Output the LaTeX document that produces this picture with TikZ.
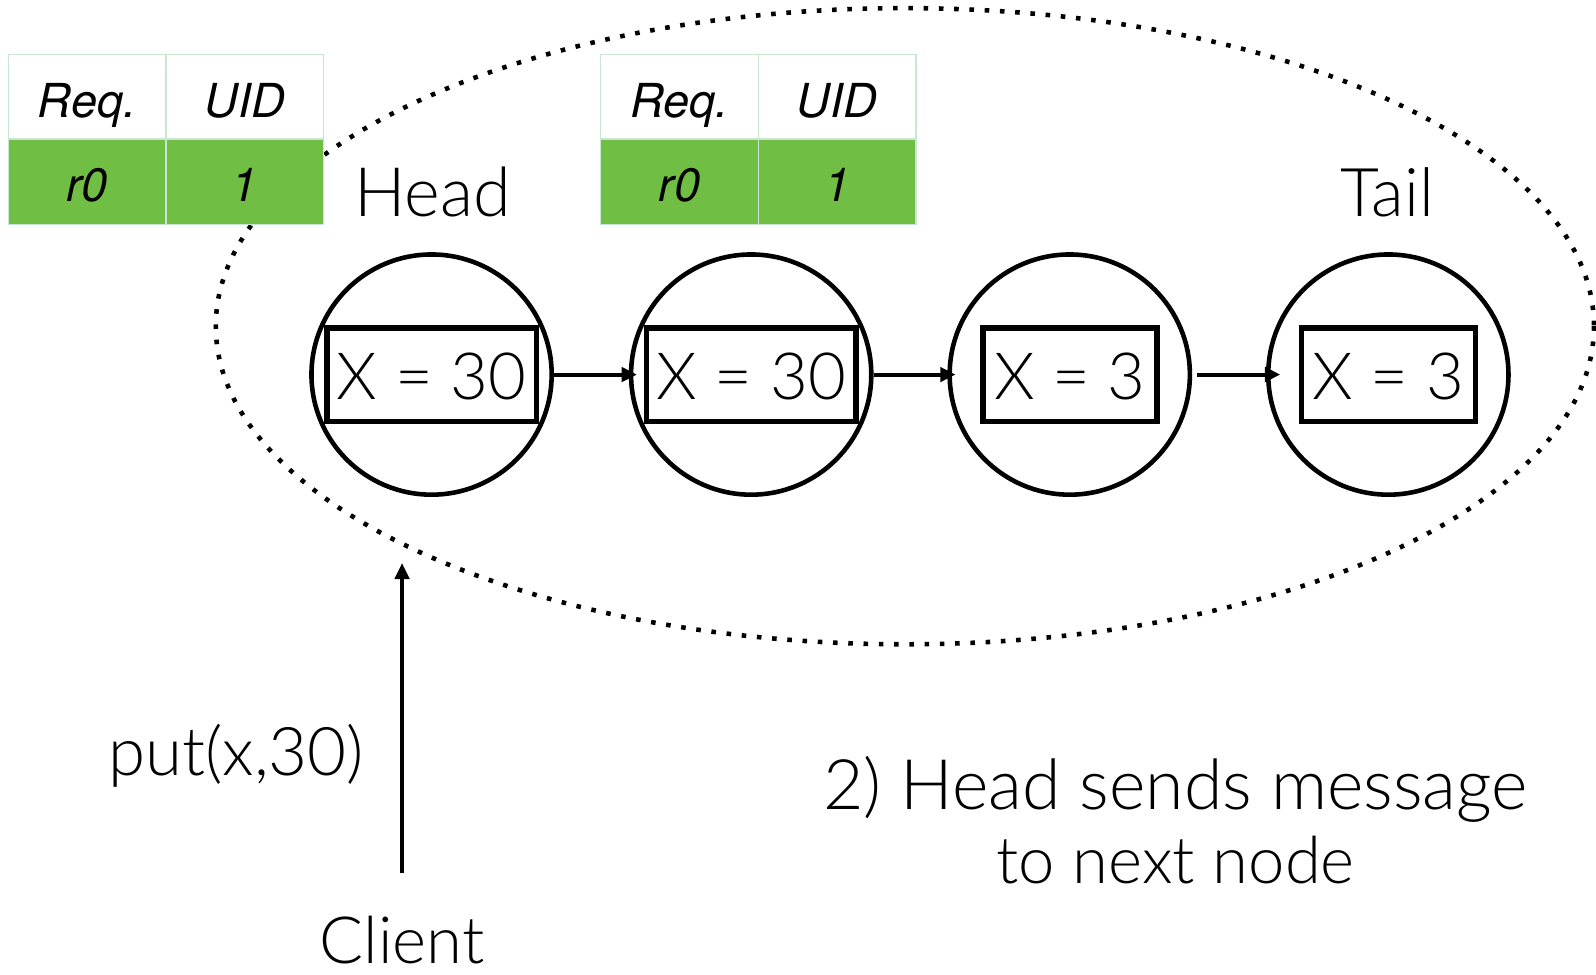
\documentclass[tikz,border=0pt]{standalone}
\usepackage{fontspec}
\setmainfont{Lato}[UprightFont={* Light}]
\newfontfamily\tabfont{TeX Gyre Heros}
\usetikzlibrary{arrows.meta}
\definecolor{cellgreen}{HTML}{70BF44}
\definecolor{cellrule}{HTML}{C8E6D2}
\tikzset{
  ring/.style={circle, draw, line width=4.5pt, minimum size=236pt, inner sep=0pt},
  valbox/.style={draw, line width=5.5pt, minimum height=92pt, inner sep=0pt},
  label/.style={font=\fontsize{64}{72}\selectfont, inner sep=0pt, anchor=base},
  cellhead/.style={draw=cellrule, line width=1.2pt, fill=white, minimum width=155pt,
    minimum height=84pt, inner sep=0pt, text height=39pt, text depth=0pt,
    font=\tabfont\itshape\fontsize{46}{50}\selectfont},
  cellbody/.style={cellhead, fill=cellgreen},
  link/.style={line width=4pt, -{Triangle[length=15pt,width=14pt]}},
  group/.style={line width=4.5pt, dash pattern=on 4.5pt off 10.5pt},
}
\begin{document}
\begin{tikzpicture}[x=1pt,y=-1pt]
\useasboundingbox (0,0) rectangle (1568,957);

% replica group
\draw[group] (889,320.5) ellipse [x radius=677, y radius=312.5];

% chain replicas
\node[ring] (c1) at (424,368) {};
\node[ring] (c2) at (738,368) {};
\node[ring] (c3) at (1051,368) {};
\node[ring] (c4) at (1364,368) {};

\node[valbox, minimum width=206pt] (v1) at (c1) {};
\node[valbox, minimum width=206pt] (v2) at (c2) {};
\node[valbox, minimum width=171pt] (v3) at (c3) {};
\node[valbox, minimum width=171pt] (v4) at (c4) {};
\node[label] (x1) at ([yshift=-24pt]c1) {X = 30};
\node[label] (x2) at ([yshift=-24pt]c2) {X = 30};
\node[label] (x3) at ([yshift=-24pt]c3) {X = 3};
\node[label] (x4) at ([yshift=-24pt]c4) {X = 3};

\draw[link] (c1.east) -- ([xshift=8pt]c2.west);
\draw[link] (c2.east) -- ([xshift=8pt]c3.west);
\draw[link] ([xshift=5pt]c3.east) -- ([xshift=14pt]c4.west);

\node[label, font=\fontsize{67}{72}\selectfont] (head) at (425,213) {Head};
\node[label, font=\fontsize{66}{72}\selectfont] (tail) at (1363,213) {Tail};

% request tables
\node[cellhead] (t1a) at (85.5,95.5) {Req.};
\node[cellhead] (t1b) at (240.5,95.5) {UID};
\node[cellbody] (t1c) at (85.5,178.5) {r0};
\node[cellbody] (t1d) at (240.5,178.5) {1};

\node[cellhead] (t2a) at (667.5,95.5) {Req.};
\node[cellhead] (t2b) at (822.5,95.5) {UID};
\node[cellbody] (t2c) at (667.5,178.5) {r0};
\node[cellbody] (t2d) at (822.5,178.5) {1};

% client request
\node[label] (client) at (395,947) {Client};
\coordinate (cstart) at (395,858);
\coordinate (cend) at (395,553);
\draw[line width=4pt, -{Triangle[length=16pt,width=14pt]}] (cstart) -- (cend);
\node[label, font=\fontsize{66}{72}\selectfont] (put) at (232,762) {put(x,30)};

\node[label, font=\fontsize{68.5}{72}\selectfont] (msg1) at (1155,795) {2) Head sends message};
\node[label] (msg2) at (1155,868) {to next node};
\end{tikzpicture}
\end{document}
